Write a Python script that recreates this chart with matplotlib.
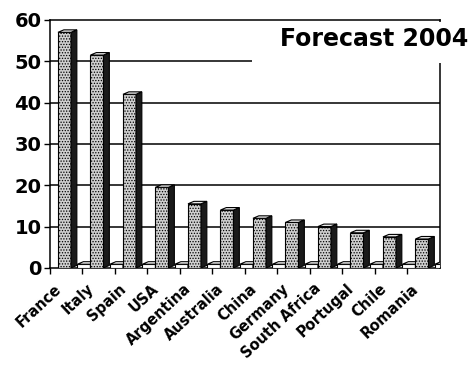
import numpy as np
import matplotlib.pyplot as plt
from matplotlib.patches import Polygon, Rectangle
from matplotlib.transforms import blended_transform_factory

plt.rcParams['font.family'] = ['DejaVu Sans']
plt.rcParams['hatch.linewidth'] = 0.6

countries = ["France", "Italy", "Spain", "USA", "Argentina", "Australia",
             "China", "Germany", "South Africa", "Portugal", "Chile", "Romania"]
forecast = [57, 51.5, 42, 19.5, 15.5, 14, 12, 11, 10, 8.5, 7.5, 7]
floor_vals = [0.9] * len(countries)

fig = plt.figure(figsize=(4.75, 3.69), dpi=100)
ax = fig.add_axes([0.105, 0.274, 0.821, 0.672])

x = np.arange(len(countries))
w = 0.40      # front face width
d = 0.18      # depth offset in x
dy = 0.6      # depth offset in y

# grid first so bars sit on top
for v in range(10, 60, 10):
    ax.axhline(v, color="black", lw=1.1, zorder=0)

def box(ax, x0, h, face, side, top, hatch=None):
    front = ax.bar(x0, h, width=w, align="edge", color=face, edgecolor="black",
                   hatch=hatch, lw=0.8, zorder=3)
    x1 = x0 + w
    ax.add_patch(Polygon([(x1, 0), (x1 + d, dy), (x1 + d, h + dy), (x1, h)],
                         closed=True, fc=side, ec="black", lw=0.8, zorder=3))
    ax.add_patch(Polygon([(x0, h), (x0 + d, h + dy), (x1 + d, h + dy), (x1, h)],
                         closed=True, fc=top, ec="black", lw=0.8, zorder=3))
    return front

for xi, h in zip(x, floor_vals):
    box(ax, xi + 0.85, h, "white", "#333333", "white")

for xi, h in zip(x, forecast):
    box(ax, xi + 0.25, h, "#cfcfcf", "#1a1a1a", "#e8e8e8", hatch="......")

ax.set_xlim(0, 12)
ax.set_ylim(0, 60)
ax.set_yticks(range(0, 61, 10))
ax.set_yticklabels([str(v) for v in range(0, 61, 10)], fontsize=14,
                   fontweight="bold")
ax.set_xticks(x)
ax.set_xticklabels([])
ax.tick_params(axis="x", direction="out", length=4, width=1)
ax.tick_params(axis="y", direction="out", length=4, width=1, pad=2)

# rotated category names
tr = blended_transform_factory(ax.transData, ax.transAxes)
for xi, name in zip(x, countries):
    ax.text(xi + 0.28, -0.075, name, transform=tr, rotation=43,
            rotation_mode="anchor", ha="right", va="center",
            fontsize=10.5, fontweight="bold")

for s in ax.spines.values():
    s.set_linewidth(1.1)

# white block behind the title, hiding the upper grid on the right
fig.patches.append(Rectangle((252 / 475, 1 - 63 / 369), 1, 41 / 369,
                             transform=fig.transFigure, fc="white",
                             ec="none", zorder=5))
fig.text(0.589, 0.894, "Forecast 2004", fontsize=17, fontweight="bold",
         ha="left", va="center", zorder=6)

fig.savefig("out.png", dpi=100)
